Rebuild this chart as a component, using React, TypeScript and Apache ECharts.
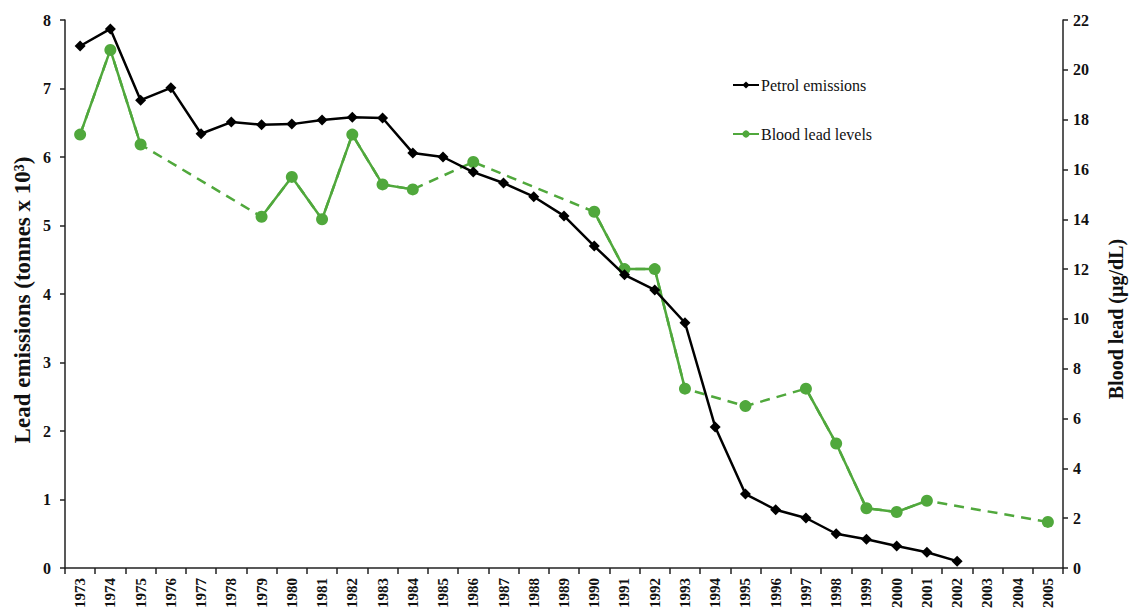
import React, { useEffect, useRef } from "react";
import * as echarts from "echarts";

const years = [
  "1973","1974","1975","1976","1977","1978","1979","1980","1981","1982","1983","1984","1985","1986","1987","1988","1989","1990",
  "1991","1992","1993","1994","1995","1996","1997","1998","1999","2000","2001","2002","2003","2004","2005",
];

const petrolEmissions: (number | null)[] = [
  7.62, 7.87, 6.83, 7.01, 6.34, 6.51, 6.47, 6.48, 6.54, 6.58, 6.57, 6.06, 6.0, 5.78, 5.62, 5.42, 5.14, 4.7,
  4.28, 4.06, 3.58, 2.06, 1.08, 0.85, 0.73, 0.5, 0.42, 0.32, 0.23, 0.1, null, null, null,
];

const bloodLead: (number | null)[] = [
  17.4, 20.8, 17.0, null, null, null, 14.1, 15.7, 14.0, 17.4, 15.4, 15.2, null, 16.3, null, null, null, 14.3,
  12.0, 12.0, 7.2, null, 6.5, null, 7.2, 5.0, 2.4, 2.25, 2.7, null, null, null, 1.85,
];

const leftTitle = "Lead emissions (tonnes x 10³)";
const rightTitle = "Blood lead (µg/dL)";

const GREEN = "#50a83c";
const FONT = "'Liberation Serif', 'Times New Roman', serif";

export default function App() {
  const ref = useRef<HTMLDivElement>(null);
  useEffect(() => {
    document.body.style.margin = "0";
    const chart = echarts.init(ref.current!, null, { renderer: "svg" });
    chart.setOption({
      animation: false,
      backgroundColor: "#ffffff",
      textStyle: { fontFamily: FONT },
      grid: { left: 65, right: 67, top: 20, bottom: 44, containLabel: false },
      legend: {
        orient: "vertical",
        left: 727,
        top: 72,
        itemGap: 33,
        itemWidth: 26,
        itemHeight: 9,
        textStyle: { fontFamily: FONT, fontSize: 16, color: "#111", padding: [0, 0, 0, -3] },
        data: [{ name: "Petrol emissions" }, { name: "Blood lead levels" }],
      },
      graphic: [
        {
          type: "text",
          x: 22,
          y: 300,
          rotation: Math.PI / 2,
          style: {
            text: leftTitle,
            fontFamily: FONT,
            fontWeight: "bold",
            fontSize: 23,
            fill: "#111",
            align: "center",
            verticalAlign: "middle",
          },
        },
        {
          type: "text",
          x: 1116,
          y: 319,
          rotation: Math.PI / 2,
          style: {
            text: rightTitle,
            fontFamily: FONT,
            fontWeight: "bold",
            fontSize: 20,
            fill: "#111",
            align: "center",
            verticalAlign: "middle",
          },
        },
      ],
      xAxis: {
        type: "category",
        data: years,
        boundaryGap: true,
        axisLine: { lineStyle: { color: "#222", width: 1.5 } },
        axisTick: { show: true, inside: false, length: 6, lineStyle: { color: "#222", width: 1.5 } },
        axisLabel: {
          rotate: 90,
          interval: 0,
          fontFamily: FONT,
          fontWeight: "bold",
          fontSize: 15,
          color: "#111",
          margin: 10,
        },
        splitLine: { show: false },
      },
      yAxis: [
        {
          type: "value",
          min: 0,
          max: 8,
          interval: 1,
          axisLine: { show: true, lineStyle: { color: "#222", width: 1.5 } },
          axisTick: { show: true, length: 5, lineStyle: { color: "#222", width: 1.5 } },
          axisLabel: { fontFamily: FONT, fontWeight: "bold", fontSize: 16, color: "#111", margin: 14 },
          splitLine: { show: false },
        },
        {
          type: "value",
          min: 0,
          max: 22,
          interval: 2,
          position: "right",
          axisLine: { show: true, lineStyle: { color: "#222", width: 1.5 } },
          axisTick: { show: true, length: 5, lineStyle: { color: "#222", width: 1.5 } },
          axisLabel: { fontFamily: FONT, fontWeight: "bold", fontSize: 16, color: "#111", margin: 10 },
          splitLine: { show: false },
        },
      ],
      series: [
        {
          name: "Blood lead dashed",
          type: "line",
          yAxisIndex: 1,
          data: bloodLead,
          connectNulls: true,
          showSymbol: false,
          symbol: "none",
          lineStyle: { color: GREEN, width: 2.5, type: [10, 7] },
          itemStyle: { color: GREEN },
          silent: true,
          z: 1,
        },
        {
          name: "Blood lead levels",
          type: "line",
          yAxisIndex: 1,
          data: bloodLead,
          connectNulls: false,
          symbol: "circle",
          symbolSize: 12,
          showAllSymbol: true,
          lineStyle: { color: GREEN, width: 2.5 },
          itemStyle: { color: GREEN },
          z: 2,
        },
        {
          name: "Petrol emissions",
          type: "line",
          yAxisIndex: 0,
          data: petrolEmissions,
          symbol: "diamond",
          symbolSize: 11,
          showAllSymbol: true,
          lineStyle: { color: "#000", width: 2.5 },
          itemStyle: { color: "#000" },
          z: 3,
        },
      ],
    });
    return () => chart.dispose();
  }, []);
  return <div ref={ref} style={{ width: 1130, height: 612 }} />;
}
